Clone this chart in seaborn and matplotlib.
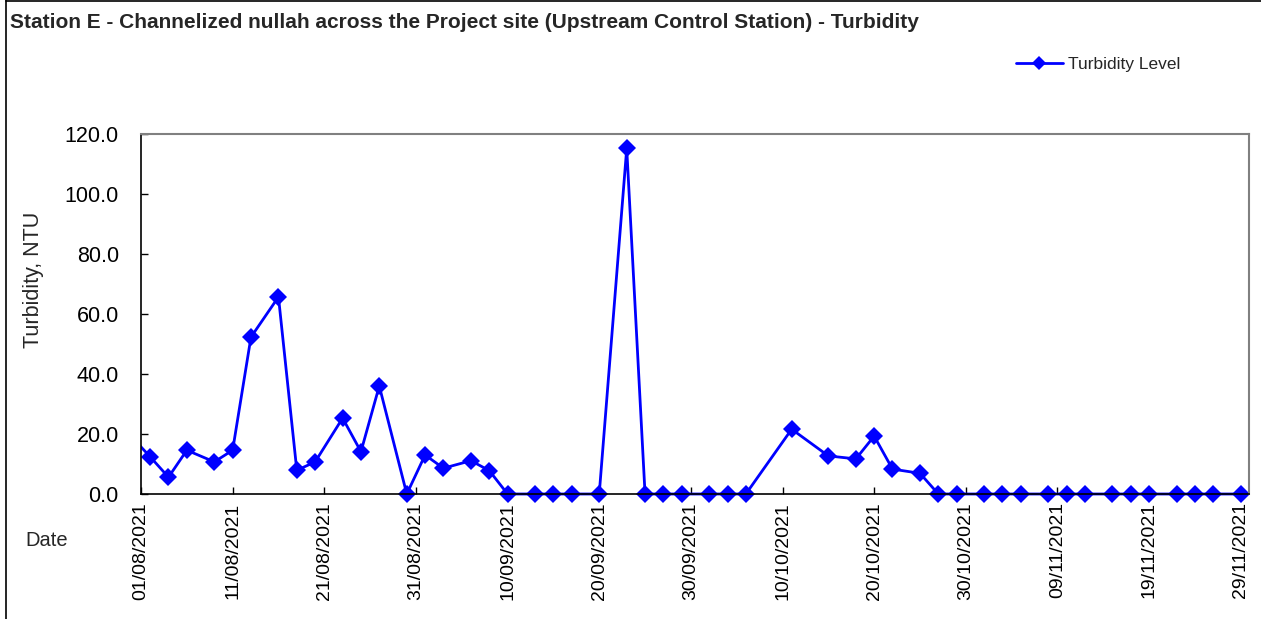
import pandas as pd
import numpy as np
import matplotlib
matplotlib.use("Agg")
import matplotlib.pyplot as plt
import matplotlib.dates as mdates
from matplotlib.transforms import Bbox, TransformedBbox
import seaborn as sns

############# Data ######################################

dates = ["31/07/2021", "02/08/2021", "04/08/2021", "06/08/2021", "09/08/2021",
         "11/08/2021", "13/08/2021", "16/08/2021", "18/08/2021", "20/08/2021",
         "23/08/2021", "25/08/2021", "27/08/2021", "30/08/2021", "01/09/2021",
         "03/09/2021", "06/09/2021", "08/09/2021", "10/09/2021", "13/09/2021",
         "15/09/2021", "17/09/2021", "20/09/2021", "23/09/2021", "25/09/2021",
         "27/09/2021", "29/09/2021", "02/10/2021", "04/10/2021", "06/10/2021",
         "11/10/2021", "15/10/2021", "18/10/2021", "20/10/2021", "22/10/2021",
         "25/10/2021", "27/10/2021", "29/10/2021", "01/11/2021", "03/11/2021",
         "05/11/2021", "08/11/2021", "10/11/2021", "12/11/2021", "15/11/2021",
         "17/11/2021", "19/11/2021", "22/11/2021", "24/11/2021", "26/11/2021",
         "29/11/2021"]
turbidity = [19.0, 12.4, 5.6, 14.6, 10.7,
             14.6, 52.3, 65.7, 7.9, 10.7,
             25.3, 14.1, 36.0, 0.0, 13.0,
             8.6, 11.1, 7.8, 0.0, 0.0,
             0.0, 0.0, 0.0, 115.2, 0.0,
             0.0, 0.0, 0.0, 0.0, 0.0,
             21.6, 12.7, 11.7, 19.3, 8.3,
             6.9, 0.0, 0.0, 0.0, 0.0,
             0.0, 0.0, 0.0, 0.0, 0.0,
             0.0, 0.0, 0.0, 0.0, 0.0,
             0.0]

title = "Station E - Channelized nullah across the Project site (Upstream Control Station) - Turbidity"
series_name = "Turbidity Level"
y_ticks = [0, 20, 40, 60, 80, 100, 120]

df = pd.DataFrame({"Date": pd.to_datetime(dates, format="%d/%m/%Y"),
                   "Turbidity": turbidity})

############# Plot ###################

sns.set_style("white")
plt.rcParams['font.family'] = ['Liberation Sans', 'DejaVu Sans']

fig = plt.figure(figsize=(12.61, 6.19), dpi=100)
ax = fig.add_axes([141/1261, 1 - 494/619, (1249 - 141)/1261, (494 - 134)/619])

sns.lineplot(data=df, x="Date", y="Turbidity", ax=ax, color="#0000ff",
             marker="D", markersize=9.5, markeredgewidth=0, linewidth=2.0,
             label=series_name, legend=False)

# clip on the left edge only, let the zero markers hang below the axis
line = ax.lines[0]
line.set_clip_box(TransformedBbox(Bbox([[0, -0.1], [1.02, 1.1]]), ax.transAxes))

start = pd.Timestamp("2021-08-01")
ax.set_xlim(start, start + pd.Timedelta(days=120.9))
ax.set_ylim(0, 120)

xt = pd.date_range("2021-08-01", "2021-11-29", freq="10D")
ax.set_xticks(xt)
ax.xaxis.set_major_formatter(mdates.DateFormatter("%d/%m/%Y"))
ax.set_yticks(y_ticks)
ax.set_yticklabels(["%.1f" % v for v in y_ticks])

ax.tick_params(axis="x", direction="in", length=5, width=1, labelsize=14,
               rotation=90, pad=6, colors="black")
ax.tick_params(axis="y", direction="in", length=5, width=1, labelsize=15.5,
               pad=16, colors="black")
ax.tick_params(left=True, bottom=True)

ax.set_xlabel("")
ax.set_ylabel("")

for s in ["left", "bottom"]:
    ax.spines[s].set_color("black")
    ax.spines[s].set_linewidth(1.2)
for s in ["top", "right"]:
    ax.spines[s].set_color("#808080")
    ax.spines[s].set_linewidth(1.5)

# text around the plot
fig.text(10/1261, 1 - 22/619, title, fontsize=15, fontweight="bold",
         va="center", ha="left")
fig.text(33/1261, 1 - 280/619, "Turbidity, NTU", fontsize=15.5, rotation=90,
         va="center", ha="center")
fig.text(25/1261, 1 - 540/619, "Date", fontsize=14.5, va="center", ha="left")

leg = ax.legend(loc="center left", bbox_to_anchor=(1016/1261, 1 - 64/619),
                bbox_transform=fig.transFigure, frameon=False, fontsize=12.5,
                handlelength=2.7, handletextpad=0.3, borderpad=0,
                borderaxespad=0, markerscale=0.7)

# outer chart border
fig.add_artist(plt.Line2D([6/1261, 6/1261], [0, 1], color="black", lw=1.2))
fig.add_artist(plt.Line2D([6/1261, 1], [1 - 1/619, 1 - 1/619], color="black", lw=1.2))

fig.savefig("out.png", dpi=100)
